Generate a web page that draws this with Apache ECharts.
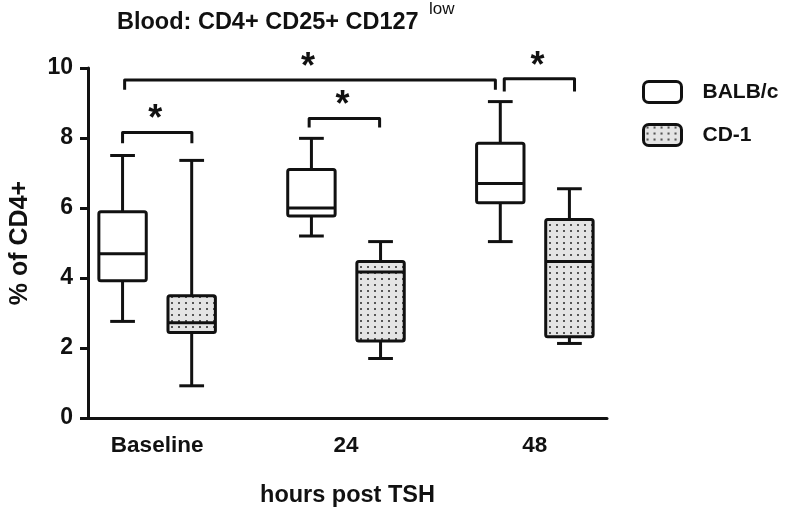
<!DOCTYPE html>
<html>
<head>
<meta charset="utf-8">
<script src="https://cdn.jsdelivr.net/npm/echarts@6/dist/echarts.min.js"></script>
<style>html,body{margin:0;padding:0;background:#fff;}#chart{width:800px;height:516px;}</style>
</head>
<body>
<div id="chart"></div>
<script>
// ---- data ----
const categories = ['Baseline', '24', '48'];
const seriesNames = ['BALB/c', 'CD-1'];
// [min, Q1, median, Q3, max]
const balbStats = [[2.76, 3.92, 4.69, 5.89, 7.50], [5.20, 5.77, 6.00, 7.10, 7.99], [5.04, 6.15, 6.70, 7.85, 9.04]];
const cd1Stats  = [[0.92, 2.44, 2.72, 3.49, 7.36], [1.70, 2.20, 4.17, 4.47, 5.04], [2.13, 2.32, 4.47, 5.67, 6.55]];
const yTicks = [0, 2, 4, 6, 8, 10];
// significance brackets (x in axis units, y in % units)
const bracketStart = [-0.183, 0.805, -0.172, 1.838];
const bracketEnd   = [0.184, 1.178, 1.791, 2.210];
const bracketTop   = [8.16, 8.56, 9.66, 9.69];
const bracketFoot  = [7.85, 8.30, 9.38, 9.33];
const bracketMark  = ['*', '*', '*', '*'];

// ---- layout / style ----
const FONT = '"Liberation Sans", Arial, sans-serif';
const INK = '#111';
const DODGE = 0.183, BOX_W = 0.251, CAP_W = 0.131;

function makePattern() {
  const c = document.createElement('canvas');
  c.width = 7; c.height = 6;
  const g = c.getContext('2d');
  g.fillStyle = '#e4e4e4'; g.fillRect(0, 0, 7, 6);
  g.fillStyle = '#555'; g.fillRect(3, 2, 2, 2);
  return c;
}
const dotFill = { image: makePattern(), repeat: 'repeat' };

function boxRender(fill) {
  return function (params, api) {
    const x = api.value(0);
    const P = v => api.coord([x, api.value(v)]);
    const lo = P(1), q1 = P(2), med = P(3), q3 = P(4), hi = P(5);
    const hw = api.size([BOX_W, 0])[0] / 2;
    const cw = api.size([CAP_W, 0])[0] / 2;
    const cx = lo[0];
    const st = { stroke: INK, lineWidth: 3, fill: null };
    return {
      type: 'group',
      children: [
        { type: 'line', shape: { x1: cx, y1: hi[1], x2: cx, y2: q3[1] }, style: st },
        { type: 'line', shape: { x1: cx, y1: q1[1], x2: cx, y2: lo[1] }, style: st },
        { type: 'line', shape: { x1: cx - cw, y1: hi[1], x2: cx + cw, y2: hi[1] }, style: st },
        { type: 'line', shape: { x1: cx - cw, y1: lo[1], x2: cx + cw, y2: lo[1] }, style: st },
        { type: 'rect', shape: { x: cx - hw, y: q3[1], width: 2 * hw, height: q1[1] - q3[1], r: 2 },
          style: { fill: fill, stroke: INK, lineWidth: 3, lineJoin: 'round' } },
        { type: 'line', shape: { x1: cx - hw, y1: med[1], x2: cx + hw, y2: med[1] }, style: st }
      ]
    };
  };
}

function bracketRender(params, api) {
  const a = api.coord([api.value(0), api.value(2)]);
  const b = api.coord([api.value(1), api.value(2)]);
  const f = api.coord([api.value(0), api.value(3)]);
  const st = { stroke: INK, lineWidth: 3, fill: null, lineJoin: 'round' };
  return {
    type: 'group',
    children: [
      { type: 'polyline', shape: { points: [[a[0], f[1]], a, b, [b[0], f[1]]] }, style: st },
      { type: 'text', x: (a[0] + b[0]) / 2 - 2, y: a[1] + 6,
        style: { text: bracketMark[params.dataIndex], fill: INK, font: 'bold 36px ' + FONT,
                 align: 'center', verticalAlign: 'bottom' } }
    ]
  };
}

const chart = echarts.init(document.getElementById('chart'), null, { renderer: 'canvas' });
chart.setOption({
  animation: false,
  backgroundColor: '#fff',
  title: [
    { text: 'Blood: CD4+ CD25+ CD127', left: 117, top: 11, padding: 0,
      textStyle: { fontFamily: FONT, fontSize: 23.5, fontWeight: 'bold', color: INK } },
    { text: 'low', left: 429, top: 1, padding: 0,
      textStyle: { fontFamily: FONT, fontSize: 17, fontWeight: 'normal', color: INK } }
  ],
  legend: {
    orient: 'vertical', left: 642, top: 80, padding: 0,
    itemWidth: 38, itemHeight: 21, itemGap: 19, icon: 'roundRect',
    textStyle: { fontFamily: FONT, fontSize: 21, fontWeight: 'bold', color: INK, padding: [0, 0, 0, 16] },
    data: [
      { name: seriesNames[0], itemStyle: { color: '#fff', borderColor: INK, borderWidth: 3 } },
      { name: seriesNames[1], itemStyle: { color: dotFill, borderColor: INK, borderWidth: 3 } }
    ]
  },
  grid: { left: 82, right: 193, top: 68, bottom: 98 },
  xAxis: {
    type: 'value', min: -0.366, max: 2.382,
    name: 'hours post TSH', nameLocation: 'middle', nameGap: 66,
    nameTextStyle: { fontFamily: FONT, fontSize: 23.5, fontWeight: 'bold', color: INK },
    axisLine: { show: true, onZero: false, lineStyle: { color: INK, width: 3 } },
    axisTick: { show: false }, splitLine: { show: false },
    axisLabel: {
      margin: 16, fontFamily: FONT, fontSize: 22.5, fontWeight: 'bold', color: INK,
      formatter: v => (Math.abs(v - Math.round(v)) < 1e-6 && categories[Math.round(v)] !== undefined) ? categories[Math.round(v)] : ''
    }
  },
  yAxis: {
    type: 'value', min: yTicks[0], max: yTicks[yTicks.length - 1], interval: 2,
    name: '% of CD4+', nameLocation: 'middle', nameGap: 55, nameRotate: 90,
    nameTextStyle: { fontFamily: FONT, fontSize: 25, fontWeight: 'bold', color: INK },
    axisLine: { show: true, onZero: false, lineStyle: { color: INK, width: 3 } },
    axisTick: { show: true, length: 8, lineStyle: { color: INK, width: 3 } },
    splitLine: { show: false },
    axisLabel: { margin: 15, fontFamily: FONT, fontSize: 23, fontWeight: 'bold', color: INK }
  },
  series: [
    { name: seriesNames[0], type: 'custom', clip: false, renderItem: boxRender('#fff'),
      itemStyle: { color: '#fff', borderColor: INK },
      encode: { x: 0, y: [1, 2, 3, 4, 5] },
      data: balbStats.map((s, i) => [i - DODGE].concat(s)) },
    { name: seriesNames[1], type: 'custom', clip: false, renderItem: boxRender(dotFill),
      itemStyle: { color: '#ccc', borderColor: INK },
      encode: { x: 0, y: [1, 2, 3, 4, 5] },
      data: cd1Stats.map((s, i) => [i + DODGE].concat(s)) },
    { name: 'brackets', type: 'custom', clip: false, renderItem: bracketRender,
      encode: { x: [0, 1], y: [2, 3] },
      data: bracketStart.map((s, i) => [s, bracketEnd[i], bracketTop[i], bracketFoot[i]]) }
  ]
});
</script>
</body>
</html>
